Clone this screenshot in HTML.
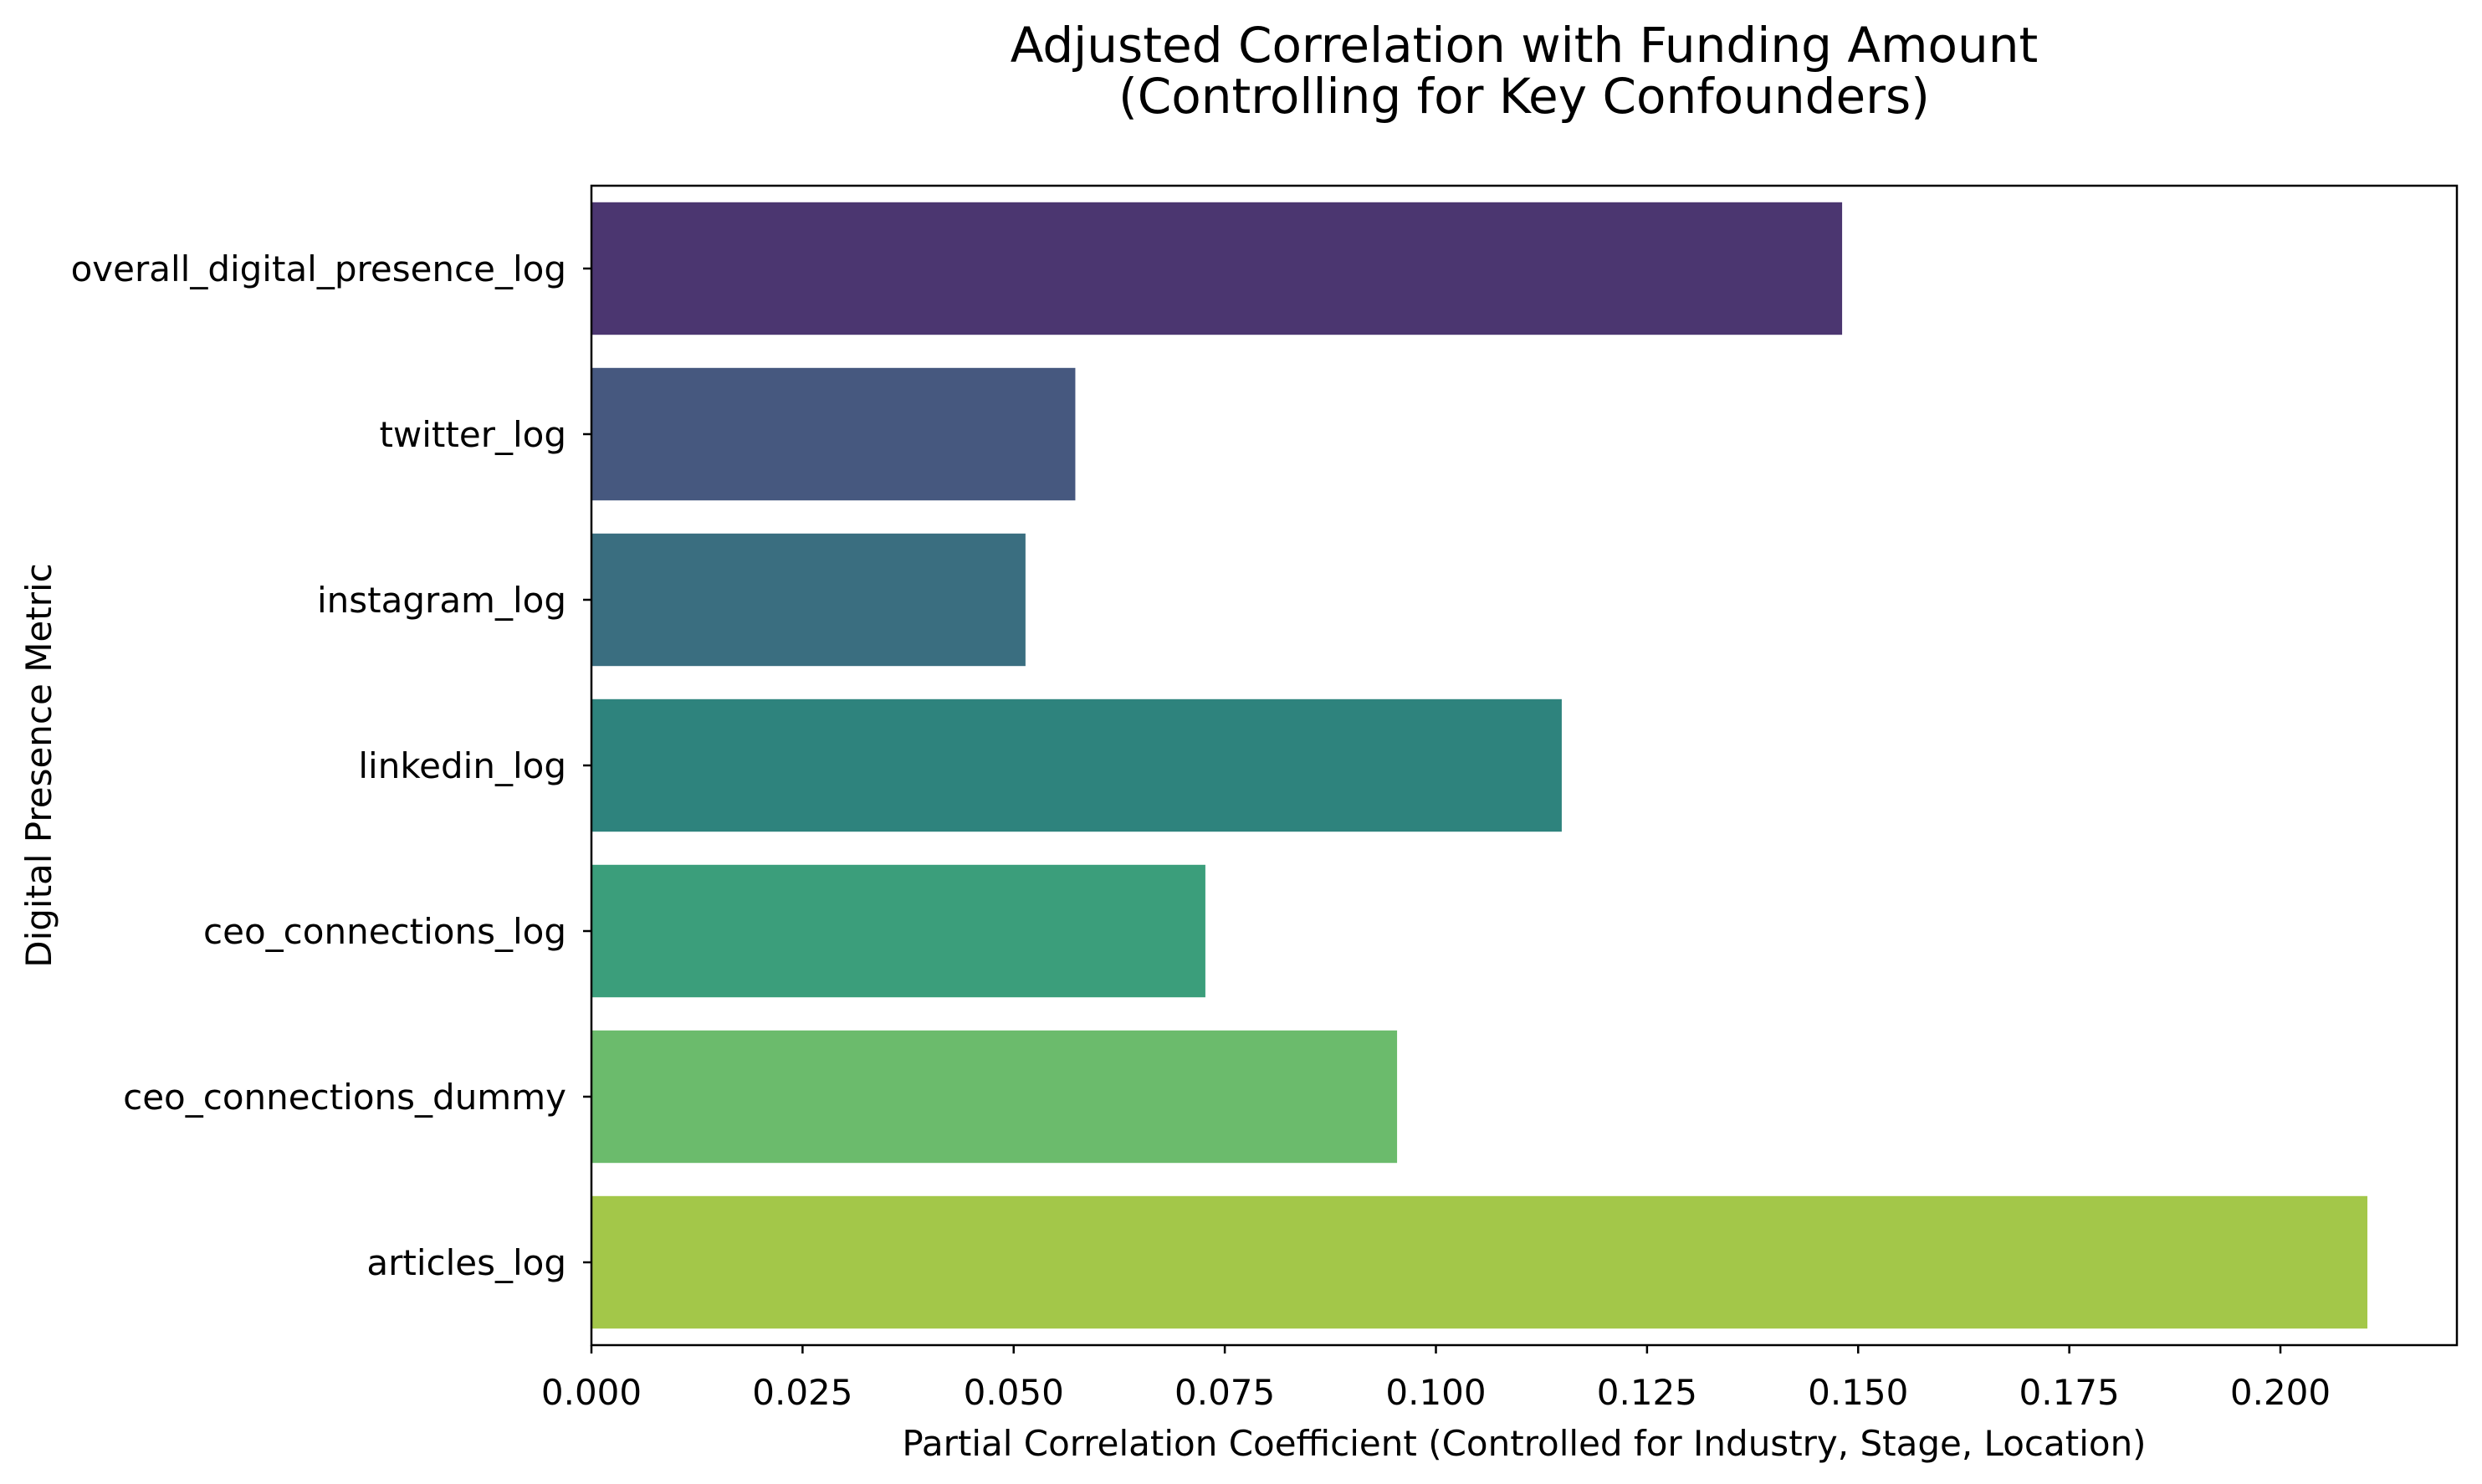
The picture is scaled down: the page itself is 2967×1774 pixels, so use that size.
<!DOCTYPE html>
<html><head><meta charset="utf-8"><style>
html,body{margin:0;padding:0;background:#fff;}
svg text{font-family:"DejaVu Sans","Liberation Sans",sans-serif;fill:#000;}
</style></head><body>
<svg id="chart" width="2967" height="1769" viewBox="0 0 2967 1769" xmlns="http://www.w3.org/2000/svg">
<text x="1822" y="74" font-size="58" text-anchor="middle">Adjusted Correlation with Funding Amount</text>
<text x="1822" y="135" font-size="58" text-anchor="middle">(Controlling for Key Confounders)</text>
<g id="bars"></g>
<g id="yticks"></g>
<g id="xticks"></g>
<rect x="707" y="222" width="2230" height="1386" fill="none" stroke="#000" stroke-width="2.5"/>
<text x="1822" y="1740" font-size="42" text-anchor="middle">Partial Correlation Coefficient (Controlled for Industry, Stage, Location)</text>
<text x="0" y="0" font-size="42" text-anchor="middle" transform="translate(61,915) rotate(-90)">Digital Presence Metric</text>
</svg>
<script>
const categories = ["overall_digital_presence_log","twitter_log","instagram_log","linkedin_log","ceo_connections_log","ceo_connections_dummy","articles_log"];
const values = [0.1481,0.0573,0.0514,0.1149,0.0727,0.0954,0.2103];
const colors = ["#4b3670","#46587f","#3a6e80","#2e837d","#3b9e7b","#6bbb6c","#a3c749"];
const xTicks = [0,0.025,0.05,0.075,0.1,0.125,0.15,0.175,0.2];
const xTickLabels = ["0.000","0.025","0.050","0.075","0.100","0.125","0.150","0.175","0.200"];

const L=707,R=2937,T=222,B=1608,XMAX=0.2209;
const NS="http://www.w3.org/2000/svg";
function xs(v){return L+(v/XMAX)*(R-L);}
const band=(B-T)/categories.length;
function yc(i){return T+band*(i+0.5);}
const gb=document.getElementById('bars'),gy=document.getElementById('yticks'),gx=document.getElementById('xticks');
categories.forEach((c,i)=>{
  const r=document.createElementNS(NS,'rect');
  r.setAttribute('x',xs(0));r.setAttribute('y',yc(i)-band*0.4);
  r.setAttribute('width',xs(values[i])-xs(0));r.setAttribute('height',band*0.8);
  r.setAttribute('fill',colors[i]);
  
  
  gb.appendChild(r);
  const tk=document.createElementNS(NS,'line');
  tk.setAttribute('x1',L-10);tk.setAttribute('x2',L);tk.setAttribute('y1',yc(i));tk.setAttribute('y2',yc(i));
  tk.setAttribute('stroke','#000');tk.setAttribute('stroke-width','2.5');
  
  
  gy.appendChild(tk);
  const t=document.createElementNS(NS,'text');
  t.setAttribute('x',L-30);t.setAttribute('y',yc(i)+15);t.setAttribute('font-size','42');t.setAttribute('text-anchor','end');
  t.textContent=c;
  
  
  gy.appendChild(t);
});
xTicks.forEach((v,i)=>{
  const tk=document.createElementNS(NS,'line');
  tk.setAttribute('x1',xs(v));tk.setAttribute('x2',xs(v));tk.setAttribute('y1',B);tk.setAttribute('y2',B+10);
  tk.setAttribute('stroke','#000');tk.setAttribute('stroke-width','2.5');
  
  
  gx.appendChild(tk);
  const t=document.createElementNS(NS,'text');
  t.setAttribute('x',xs(v));t.setAttribute('y',1679);t.setAttribute('font-size','42');t.setAttribute('text-anchor','middle');
  t.textContent=xTickLabels[i];
  
  
  gx.appendChild(t);
});
</script>
</body></html>
